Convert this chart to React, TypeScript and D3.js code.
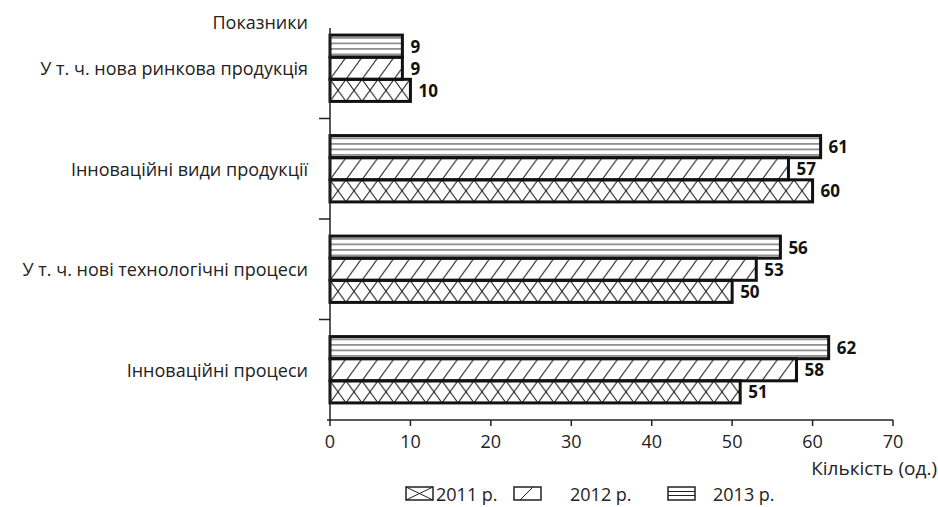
import React from 'react';
import * as d3 from 'd3';

// categories top to bottom
const categories = [
  'У т. ч. нова ринкова продукція',
  'Інноваційні види продукції',
  'У т. ч. нові технологічні процеси',
  'Інноваційні процеси',
];
const seriesNames = ['2013 р.', '2012 р.', '2011 р.'];
const values2013 = [9, 61, 56, 62];
const values2012 = [9, 57, 53, 58];
const values2011 = [10, 60, 50, 51];
const xTicks = [0, 10, 20, 30, 40, 50, 60, 70];

const W = 938;
const H = 507;
const FONT = '"Open Sans", "Noto Sans", sans-serif';

const App = () => {
  const x = d3.scaleLinear().domain([0, 70]).range([330, 893]);
  const y = d3.scaleBand<string>().domain(categories).range([18, 420]);
  const inner = d3
    .scaleBand<string>()
    .domain(seriesNames)
    .range([0, y.bandwidth() * 0.66])
    .padding(0);
  const groupOffset = (y.bandwidth() - y.bandwidth() * 0.66) / 2;

  const seriesValues: Record<string, number[]> = {
    '2013 р.': values2013,
    '2012 р.': values2012,
    '2011 р.': values2011,
  };
  const kind: Record<string, string> = {
    '2013 р.': 'horiz',
    '2012 р.': 'diag',
    '2011 р.': 'cross',
  };

  const bh = inner.bandwidth();

  // one pattern per bar so the tiles line up with the bar top
  const patterns: JSX.Element[] = [];
  const bars: JSX.Element[] = [];
  categories.forEach((c, ci) => {
    seriesNames.forEach((s) => {
      const v = seriesValues[s][ci];
      const y0 = (y(c) as number) + groupOffset + (inner(s) as number);
      const id = `p-${ci}-${s.slice(0, 4)}`;
      const k = kind[s];
      if (k === 'horiz') {
        patterns.push(
          <pattern key={id} id={id} patternUnits="userSpaceOnUse" x={0} y={y0} width={10} height={bh / 4}>
            <line x1={0} x2={10} y1={bh / 8} y2={bh / 8} stroke="#333" strokeWidth={1} />
          </pattern>
        );
      } else if (k === 'diag') {
        patterns.push(
          <pattern key={id} id={id} patternUnits="userSpaceOnUse" x={330} y={y0} width={16} height={bh}>
            <line x1={0} y1={bh} x2={16} y2={0} stroke="#222" strokeWidth={1} />
          </pattern>
        );
      } else {
        patterns.push(
          <pattern key={id} id={id} patternUnits="userSpaceOnUse" x={330} y={y0} width={16} height={bh}>
            <line x1={0} y1={bh} x2={16} y2={0} stroke="#222" strokeWidth={1} />
            <line x1={0} y1={0} x2={16} y2={bh} stroke="#222" strokeWidth={1} />
          </pattern>
        );
      }
      bars.push(
        <g key={`b-${ci}-${s}`}>
          <rect
            x={x(0)}
            y={y0}
            width={x(v) - x(0)}
            height={bh}
            fill={`url(#${id})`}
            stroke="#111"
            strokeWidth={3}
          />
          <text
            x={x(v) + 8}
            y={y0 + bh / 2}
            dominantBaseline="central"
            fontFamily={FONT}
            fontWeight="bold"
            fontSize={17}
            fill="#111"
          >
            {v}
          </text>
        </g>
      );
    });
  });

  const legend = [
    { name: '2011 р.', k: 'cross', sx: 406, tx: 436 },
    { name: '2012 р.', k: 'diag', sx: 514, tx: 570 },
    { name: '2013 р.', k: 'horiz', sx: 668, tx: 713 },
  ];

  return (
    <svg
      width={W}
      height={H}
      style={{ position: 'absolute', left: 0, top: 0, background: '#fff' }}
    >
      <defs>{patterns}</defs>
      <rect width={W} height={H} fill="#fff" />

      <text x={308} y={22} textAnchor="end" dominantBaseline="central" fontFamily={FONT} fontSize={18} fill="#222">
        Показники
      </text>

      {categories.map((c) => (
        <text
          key={c}
          x={308}
          y={(y(c) as number) + y.bandwidth() / 2}
          textAnchor="end"
          dominantBaseline="central"
          fontFamily={FONT}
          fontSize={18}
          fill="#222"
        >
          {c}
        </text>
      ))}

      {bars}

      {/* y axis */}
      <line x1={330} x2={330} y1={28} y2={421} stroke="#222" strokeWidth={1.5} />
      {categories.slice(1).map((c) => (
        <line key={c} x1={319} x2={330} y1={y(c) as number} y2={y(c) as number} stroke="#222" strokeWidth={1.5} />
      ))}

      {/* x axis */}
      <line x1={327} x2={x(70)} y1={420} y2={420} stroke="#222" strokeWidth={1.5} />
      {xTicks.map((t) => (
        <g key={t}>
          <line x1={x(t)} x2={x(t)} y1={420} y2={426} stroke="#222" strokeWidth={1.5} />
          <text x={x(t)} y={441} textAnchor="middle" dominantBaseline="central" fontFamily={FONT} fontSize={18} fill="#222">
            {t}
          </text>
        </g>
      ))}
      <text x={937} y={468} textAnchor="end" dominantBaseline="central" fontFamily={FONT} fontSize={19} fill="#222">
        Кількість (од.)
      </text>

      {/* legend */}
      {legend.map((l) => (
        <g key={l.name}>
          <rect x={l.sx} y={487} width={27} height={13} fill="#fff" stroke="#222" strokeWidth={1.5} />
          {l.k === 'cross' && (
            <g stroke="#222" strokeWidth={1}>
              <line x1={l.sx} y1={487} x2={l.sx + 27} y2={500} />
              <line x1={l.sx} y1={500} x2={l.sx + 27} y2={487} />
            </g>
          )}
          {l.k === 'diag' && <line x1={l.sx + 6} y1={500} x2={l.sx + 19} y2={487} stroke="#222" strokeWidth={1} />}
          {l.k === 'horiz' && (
            <g stroke="#222" strokeWidth={1}>
              <line x1={l.sx} x2={l.sx + 27} y1={491.5} y2={491.5} />
              <line x1={l.sx} x2={l.sx + 27} y1={495.5} y2={495.5} />
            </g>
          )}
          <text x={l.tx} y={494} dominantBaseline="central" fontFamily={FONT} fontSize={18} fill="#222">
            {l.name}
          </text>
        </g>
      ))}
    </svg>
  );
};

export default App;
